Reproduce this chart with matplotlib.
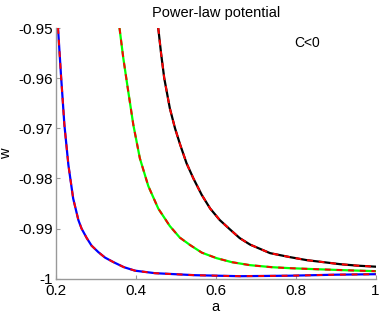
import matplotlib
matplotlib.use("Agg")
from matplotlib import pyplot as plt

plt.rcParams['font.family'] = ['Liberation Sans', 'DejaVu Sans']

# blue curve
a_blue = [0.205, 0.2125, 0.221, 0.231, 0.243, 0.256, 0.264, 0.277, 0.289, 0.306, 0.323,
          0.344, 0.370, 0.398, 0.448, 0.548, 0.660, 0.786, 0.900, 1.000]
w_blue = [-0.950, -0.9594, -0.9693, -0.9773, -0.9840, -0.9883, -0.9900, -0.9919, -0.9934, -0.9947, -0.9958,
          -0.9967, -0.9977, -0.9984, -0.9989, -0.9993, -0.9995, -0.9994, -0.9992, -0.9991]

# green curve
a_green = [0.359, 0.3685, 0.381, 0.3936, 0.410, 0.431, 0.456, 0.485, 0.510, 0.536,
           0.565, 0.602, 0.640, 0.686, 0.740, 0.786, 0.850, 0.920, 1.000]
w_green = [-0.950, -0.956, -0.9627, -0.9693, -0.9760, -0.9815, -0.9860, -0.9895, -0.9918, -0.9933,
           -0.9948, -0.9959, -0.9967, -0.9973, -0.9977, -0.9979, -0.9981, -0.9983, -0.9985]

# black curve
a_black = [0.456, 0.463, 0.471, 0.485, 0.498, 0.511, 0.527, 0.544, 0.565, 0.586, 0.610, 0.636,
           0.660, 0.686, 0.736, 0.786, 0.828, 0.870, 0.911, 0.955, 1.000]
w_black = [-0.950, -0.9550, -0.9600, -0.966, -0.9700, -0.9733, -0.9770, -0.9800, -0.9833, -0.9860, -0.9883, -0.9902,
           -0.9919, -0.9932, -0.9949, -0.9957, -0.9963, -0.9967, -0.9971, -0.9974, -0.9976]

xticks = [0.2, 0.4, 0.6, 0.8, 1]
xtick_labels = ['0.2', '0.4', '0.6', '0.8', '1']
yticks = [-1, -0.99, -0.98, -0.97, -0.96, -0.95]
ytick_labels = ['-1', '-0.99', '-0.98', '-0.97', '-0.96', '-0.95']

fig = plt.figure(figsize=(3.82, 3.14), dpi=100)
ax = fig.add_axes([0.1466, 0.1124, 0.8364, 0.7984])

ax.plot(a_blue, w_blue, color='#0000ff', lw=1.6)
ax.plot(a_blue, w_blue, color='#ff0000', lw=1.4, dashes=(3, 3))
ax.plot(a_green, w_green, color='#00ff00', lw=1.6)
ax.plot(a_green, w_green, color='#ff0000', lw=1.4, dashes=(3, 3))
ax.plot(a_black, w_black, color='#000000', lw=1.6)
ax.plot(a_black, w_black, color='#ff0000', lw=1.4, dashes=(3, 3))

ax.set_xlim(0.2, 1)
ax.set_ylim(-1, -0.95)
ax.set_xticks(xticks)
ax.set_xticklabels(xtick_labels)
ax.set_yticks(yticks)
ax.set_yticklabels(ytick_labels)
ax.tick_params(direction='in', length=3, color='#999999', labelsize=11)
ax.tick_params(axis='x', pad=4)
ax.tick_params(axis='y', pad=2)

for s in ['top', 'right']:
    ax.spines[s].set_visible(False)
for s in ['left', 'bottom']:
    ax.spines[s].set_color('#999999')
    ax.spines[s].set_linewidth(1.0)

ax.set_title('Power-law potential', fontsize=10.5, pad=8)
ax.set_xlabel('a', fontsize=10.5)
ax.set_ylabel('w', fontsize=10.5)
ax.xaxis.set_label_coords(0.5, -0.085)
ax.yaxis.set_label_coords(-0.135, 0.5)
ax.text(0.796, -0.953, 'C<0', fontsize=10, ha='left', va='center')

fig.savefig('out.png', dpi=100)
